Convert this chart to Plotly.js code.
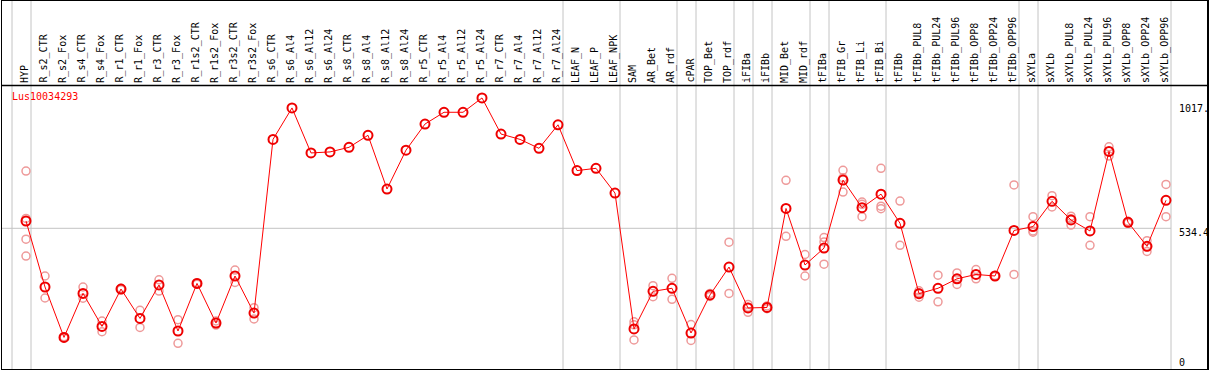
<!DOCTYPE html>
<html>
<head>
<meta charset="utf-8">
<script src="https://cdn.plot.ly/plotly-3.0.1.min.js"></script>
<style>html,body{margin:0;padding:0;background:#fff;}#chart{width:1209px;height:370px;}</style>
</head>
<body>
<div id="chart"></div>
<script>
var categories = ["HYP","R_s2_CTR","R_s2_Fox","R_s4_CTR","R_s4_Fox","R_r1_CTR","R_r1_Fox","R_r3_CTR","R_r3_Fox","R_r1s2_CTR","R_r1s2_Fox","R_r3s2_CTR","R_r3s2_Fox","R_s6_CTR","R_s6_Al4","R_s6_Al12","R_s6_Al24","R_s8_CTR","R_s8_Al4","R_s8_Al12","R_s8_Al24","R_r5_CTR","R_r5_Al4","R_r5_Al12","R_r5_Al24","R_r7_CTR","R_r7_Al4","R_r7_Al12","R_r7_Al24","LEAF_N","LEAF_P","LEAF_NPK","SAM","AR_Bet","AR_rdf","cPAR","TOP_Bet","TOP_rdf","iFIBa","iFIBb","MID_Bet","MID_rdf","tFIBa","tFIB_Gr","tFIB_Li","tFIB_Bi","tFIBb","tFIBb_PUL8","tFIBb_PUL24","tFIBb_PUL96","tFIBb_OPP8","tFIBb_OPP24","tFIBb_OPP96","sXYLa","sXYLb","sXYLb_PUL8","sXYLb_PUL24","sXYLb_PUL96","sXYLb_OPP8","sXYLb_OPP24","sXYLb_OPP96"];

var meanVals = [563,305,108,280,151,297,182,313,133,319,164,348,203,882,1005,829,833,851,898,688,840,942,988,988,1044,903,882,847,939,760,769,672,141,288,300,125,274,383,223,225,612,391,457,723,615,668,554,279,300,337,354,348,526,541,640,567,524,835,558,464,644];

var rep1 = [758,348,110,305,172,300,214,333,177,322,156,371,224,null,null,null,null,null,null,null,null,null,null,null,null,null,null,null,null,null,null,null,169,310,339,158,280,480,237,231,722,432,498,761,637,769,641,290,351,360,373,350,704,580,662,582,580,853,562,486,706];
var rep2 = [573,262,106,261,130,294,147,289,85,316,172,323,180,null,null,null,null,null,null,null,null,null,null,null,null,null,null,null,null,null,null,null,157,267,257,96,268,280,206,220,503,348,481,732,580,621,468,265,247,315,337,346,354,524,618,547,468,817,554,444,580];
var rep3 = [492,null,null,null,null,null,null,null,null,null,null,null,null,null,null,null,null,null,null,null,null,null,null,null,null,null,null,null,null,null,null,null,98,null,null,null,null,null,226,null,null,null,394,676,628,611,null,282,null,337,null,null,null,519,null,572,null,null,null,462,null];
var rep4 = [426,null,null,null,null,null,null,null,null,null,null,null,null,null,null,null,null,null,null,null,null,null,null,null,null,null,null,null,null,null,null,null,null,null,null,null,null,null,null,null,null,null,null,null,null,null,null,null,null,null,null,null,null,null,null,null,null,null,null,null,null];

var groupSizes = [1,28,3,3,1,2,1,1,2,1,3,7,1,7];
var geneName = "Lus10034293";
var yTickVals = [1017, 534.4, 0];
var yTickText = ["1017.", "534.4", "0"];
var refLineVal = 534.4;

// replicate points
var rx = [], ry = [];
[rep1, rep2, rep3, rep4].forEach(function(r){
  r.forEach(function(v, i){ if (v !== null) { rx.push(categories[i]); ry.push(v); } });
});

var traces = [
  {x: rx, y: ry, type: 'scatter', mode: 'markers', hoverinfo: 'skip',
   marker: {symbol: 'circle-open', size: 8, color: '#ee9a9a', line: {width: 1.5}}},
  {x: categories, y: meanVals, type: 'scatter', mode: 'lines+markers',
   line: {color: '#ff0000', width: 1},
   marker: {symbol: 'circle-open', size: 9, color: '#ee0000', line: {width: 2}}}
];

var off = 5/19;
var shapes = [];
var bounds = [-1 + off];
var acc = -1;
groupSizes.forEach(function(s){ acc += s; bounds.push(acc + off); });
bounds.forEach(function(b){
  shapes.push({type: 'line', xref: 'x', yref: 'paper', x0: b, x1: b, y0: 0, y1: 1.01,
    line: {color: '#c4c4c4', width: 1}, layer: 'below'});
});
shapes.push({type: 'line', xref: 'x', yref: 'y', x0: -1.3, x1: bounds[bounds.length-1],
  y0: refLineVal, y1: refLineVal, line: {color: '#c4c4c4', width: 1}, layer: 'below'});
// header separator
shapes.push({type: 'line', xref: 'paper', yref: 'paper', x0: 0, x1: 1, y0: 0.7704, y1: 0.7704,
  line: {color: '#000', width: 1.5}});

var annotations = [];
categories.forEach(function(c){
  annotations.push({x: c, xref: 'x', y: 0.7745, yref: 'paper', text: c, showarrow: false,
    textangle: -90, xanchor: 'center', yanchor: 'bottom', xshift: -1, borderpad: 0,
    font: {family: 'DejaVu Sans Mono', size: 10, color: '#000'}});
});
annotations.push({x: 0.0066, xref: 'paper', y: 0.7395, yref: 'paper', text: geneName, showarrow: false,
  xanchor: 'left', yanchor: 'middle', font: {family: 'DejaVu Sans Mono', size: 10, color: '#ff0000'}});
var labelShift = [-4, -4, 3];
yTickVals.forEach(function(v, k){
  annotations.push({x: 0.9762, xref: 'paper', y: v, yref: 'y', text: yTickText[k], showarrow: false,
    xanchor: 'left', yanchor: 'middle', yshift: labelShift[k], borderpad: 0,
    font: {family: 'DejaVu Sans Mono', size: 10, color: '#000'}});
});

var layout = {
  width: 1209, height: 370,
  margin: {l: 2, r: 2, t: 1, b: 1, pad: 0},
  paper_bgcolor: '#fff', plot_bgcolor: '#fff',
  showlegend: false,
  xaxis: {type: 'category', categoryorder: 'array', categoryarray: categories,
    range: [-1.263, 62.158], showgrid: false, showticklabels: false, ticks: '',
    zeroline: false, showline: true, mirror: true, linecolor: '#000', linewidth: 1.5},
  yaxis: {range: [-15.6, 1423], showgrid: false, showticklabels: false, ticks: '',
    zeroline: false, showline: true, mirror: true, linecolor: '#000', linewidth: 1.5},
  shapes: shapes,
  annotations: annotations
};

Plotly.newPlot('chart', traces, layout, {displayModeBar: false, staticPlot: true});
</script>
</body>
</html>
